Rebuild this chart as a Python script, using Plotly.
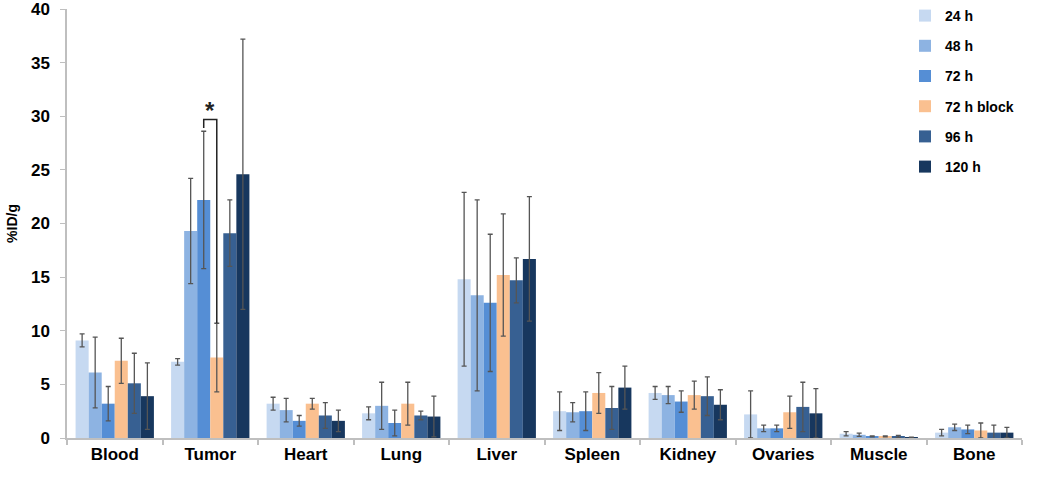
import plotly.graph_objects as go

organs = ["Blood", "Tumor", "Heart", "Lung", "Liver", "Spleen", "Kidney", "Ovaries", "Muscle", "Bone"]
series_names = ["24 h", "48 h", "72 h", "72 h block", "96 h", "120 h"]
colors = ["#c6d9f1", "#8db3e2", "#558ed5", "#fac090", "#376092", "#17375e"]

v_24 = [9.1, 7.1, 3.2, 2.3, 14.8, 2.5, 4.2, 2.2, 0.4, 0.5]
e_24 = [0.6, 0.3, 0.6, 0.6, 8.1, 1.8, 0.6, 2.2, 0.2, 0.3]
v_48 = [6.1, 19.3, 2.6, 3.0, 13.3, 2.4, 4.0, 0.9, 0.3, 1.0]
e_48 = [3.3, 4.9, 1.1, 2.2, 8.9, 0.9, 0.8, 0.3, 0.15, 0.3]
v_72 = [3.2, 22.2, 1.6, 1.4, 12.6, 2.5, 3.4, 0.9, 0.15, 0.8]
e_72 = [1.6, 6.4, 0.5, 1.2, 6.4, 1.8, 1.0, 0.3, 0.05, 0.4]
v_72b = [7.2, 7.5, 3.2, 3.2, 15.2, 4.2, 4.0, 2.4, 0.15, 0.7]
e_72b = [2.1, 3.2, 0.5, 2.0, 5.7, 1.9, 1.3, 1.5, 0.05, 0.7]
v_96 = [5.1, 19.1, 2.1, 2.1, 14.7, 2.8, 3.9, 2.9, 0.15, 0.5]
e_96 = [2.8, 3.1, 1.2, 0.4, 2.1, 2.0, 1.8, 2.3, 0.1, 0.7]
v_120 = [3.9, 24.6, 1.6, 2.0, 16.7, 4.7, 3.1, 2.3, 0.05, 0.5]
e_120 = [3.1, 12.6, 1.0, 1.9, 5.8, 2.0, 1.4, 2.3, 0.02, 0.5]

values = [v_24, v_48, v_72, v_72b, v_96, v_120]
errors = [e_24, e_48, e_72, e_72b, e_96, e_120]

# significance bracket between "72 h" and "72 h block" for Tumor
sig_organ = "Tumor"
sig_pair = ("72 h", "72 h block")
sig_level = 29.7
sig_label = "*"

bargap = 0.18
x_idx = list(range(len(organs)))

fig = go.Figure()
for i, name in enumerate(series_names):
    fig.add_trace(go.Bar(
        x=x_idx, y=values[i], name=name, legendgroup=name,
        marker=dict(color=colors[i], line=dict(width=0)),
        error_y=dict(type="data", array=errors[i], color="#555555", thickness=1.3, width=2.5),
    ))

# bracket positions computed from group layout
n = len(series_names)
bw = (1 - bargap) / n
def bar_center(cat_i, series_i):
    return cat_i - (1 - bargap) / 2 + (series_i + 0.5) * bw

ci = organs.index(sig_organ)
a = series_names.index(sig_pair[0])
b = series_names.index(sig_pair[1])
xa, xb = bar_center(ci, a), bar_center(ci, b)
ya = values[a][ci] + errors[a][ci] + 0.3
yb = values[b][ci] + errors[b][ci]
fig.add_shape(type="path", xref="x", yref="y",
              path=f"M {xa} {ya} L {xa} {sig_level} L {xb} {sig_level} L {xb} {yb}",
              line=dict(color="#222222", width=1.5))
fig.add_annotation(x=(xa + xb) / 2, y=sig_level, text=sig_label, showarrow=False,
                   yanchor="bottom", yshift=-7,
                   font=dict(size=24, color="#222222", family="Liberation Sans", weight="bold"))

H = 477
top_px, bottom_px = 0, 39
plot_h = H - top_px - bottom_px
fig.update_layout(
    width=1050, height=H,
    barmode="group", bargap=bargap, bargroupgap=0,
    plot_bgcolor="white", paper_bgcolor="white",
    margin=dict(l=67, r=28, t=top_px, b=bottom_px),
    font=dict(family="Liberation Sans, Arial, sans-serif", color="#000000"),
    showlegend=True,
    legend=dict(x=0.8775, y=1.0, xanchor="left", yanchor="top",
                font=dict(size=14, family="Liberation Sans", weight="bold"),
                tracegroupgap=9, traceorder="grouped",
                itemwidth=30, bgcolor="rgba(0,0,0,0)"),
    xaxis=dict(
        automargin=False,
        range=[-0.5, len(organs) - 0.5],
        tickmode="array", tickvals=x_idx, ticktext=organs, ticks="",
        tickfont=dict(size=17, family="Liberation Sans", weight="bold"),
        showline=True, linecolor="#bfbfbf", linewidth=1.5,
        showgrid=False, zeroline=False,
        minor=dict(tickmode="linear", tick0=0.5, dtick=1, ticks="outside",
                   ticklen=5, tickcolor="#bfbfbf", tickwidth=1.5, showgrid=False),
    ),
    yaxis=dict(
        automargin=False, ticklabeloverflow="allow",
        domain=[0, (plot_h - 9) / plot_h],
        range=[0, 40], dtick=5, ticks="outside", ticklen=5, tickcolor="#bfbfbf",
        ticklabelstandoff=7,
        tickfont=dict(size=17, family="Liberation Sans", weight="bold"),
        showline=True, linecolor="#bfbfbf", linewidth=1.5,
        showgrid=False, zeroline=False,
        title=dict(text="%ID/g", font=dict(size=14, family="Liberation Sans", weight="bold"), standoff=10),
    ),
)

fig.write_html("out.html", config={"displayModeBar": False},
               post_script="document.body.style.margin='0';")
